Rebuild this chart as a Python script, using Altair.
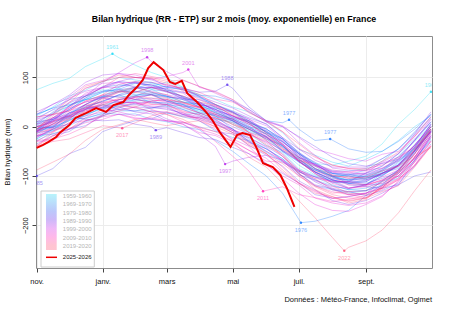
import altair as alt
import pandas as pd

FONT = "Liberation Sans, Arial, Helvetica, sans-serif"
TITLE = "Bilan hydrique (RR - ETP) sur 2 mois (moy. exponentielle) en France"
Y_TITLE = "Bilan hydrique (mm)"
CAPTION = "Données : Météo-France, Infoclimat, Ogimet"

MONTH_DAYS = [0, 61, 120, 181, 242, 304]
MONTH_LABELS = ["nov.", "janv.", "mars", "mai", "juil.", "sept."]
Y_TICKS = [-200, -100, 0, 100]

# days since 1 Nov at which each season is sampled
GRID_DAYS = [0, 15, 30, 45, 61, 76, 91, 106, 120, 135, 150, 165, 181, 196, 212, 227, 242,
             257, 273, 288, 304, 319, 334, 349, 364]

s1959 = [-25, -8, 18, 34, 60, 72, 80, 76, 62, 50, 42, 30, 12, -2, -15, -40, -62, -75, -78, -70, -60, -35, 5, 35, 71]
s1960 = [75, 88, 98, 122, 138, 140, 125, 110, 100, 80, 62, 38, 28, 8, -15, -40, -64, -92, -105, -108, -100, -90, -62, -30, 2]
s1961 = [2, 26, 42, 55, 70, 78, 66, 65, 55, 42, 32, 22, 5, -15, -38, -52, -85, -100, -110, -125, -118, -100, -78, -45, -8]
s1962 = [-8, 0, 12, 25, 36, 42, 45, 38, 42, 24, 28, 15, 8, -8, -22, -48, -65, -88, -100, -98, -95, -80, -55, -25, 10]
s1963 = [10, 28, 42, 62, 75, 70, 80, 70, 60, 45, 30, 22, 12, -10, -25, -50, -78, -98, -108, -115, -108, -88, -70, -46, -10]
s1964 = [-10, 0, 25, 45, 62, 80, 92, 82, 90, 80, 65, 55, 40, 30, 10, -12, -46, -58, -72, -80, -66, -50, -28, 0, 22]
s1965 = [22, 40, 62, 74, 92, 100, 95, 90, 80, 76, 60, 45, 30, 12, -12, -25, -55, -75, -90, -90, -85, -65, -46, -10, 25]
s1966 = [25, 38, 44, 55, 62, 60, 64, 48, 45, 38, 28, 16, 10, -5, -20, -40, -68, -84, -102, -108, -100, -88, -60, -28, 8]
s1967 = [8, 15, 28, 40, 38, 55, 62, 65, 52, 50, 45, 30, 16, 5, -10, -24, -62, -80, -102, -98, -88, -70, -45, -15, 18]
s1968 = [18, 34, 45, 55, 60, 62, 72, 65, 62, 50, 46, 28, 15, 0, -15, -38, -72, -88, -100, -108, -105, -92, -66, -40, -5]
s1969 = [-5, 2, 20, 42, 50, 65, 78, 88, 74, 70, 60, 45, 30, 8, -5, -25, -55, -78, -95, -96, -105, -95, -75, -36, -5]
s1970 = [-5, 0, 4, 25, 38, 45, 52, 54, 42, 35, 25, 12, -5, -30, -52, -72, -90, -108, -120, -128, -130, -112, -95, -65, -28]
s1971 = [-28, -14, -5, 10, 22, 32, 32, 32, 28, 20, 12, -8, -22, -28, -45, -65, -95, -120, -128, -135, -130, -118, -104, -68, -25]
s1972 = [-25, -5, 12, 35, 45, 50, 55, 50, 48, 46, 35, 25, 15, 0, -8, -38, -70, -92, -114, -112, -112, -94, -82, -50, -12]
s1973 = [-12, -8, 2, 18, 26, 45, 55, 66, 52, 45, 35, 22, -5, -25, -45, -65, -92, -102, -118, -128, -125, -110, -88, -52, -10]
s1974 = [-10, 14, 35, 55, 70, 76, 88, 85, 75, 60, 45, 36, 12, -5, -20, -50, -72, -92, -108, -115, -118, -95, -72, -38, 0]
s1975 = [0, 10, 18, 16, 28, 25, 26, 15, 10, 0, -6, -28, -50, -75, -100, -135, -190, -192, -182, -170, -140, -118, -88, -50, -5]
s1976 = [-5, 15, 34, 58, 72, 82, 90, 90, 80, 75, 64, 62, 52, 35, 12, 8, -5, -28, -30, -45, -52, -50, -30, -5, 25]
s1977 = [25, 38, 55, 62, 80, 85, 82, 78, 78, 60, 48, 35, 20, 12, -12, -30, -58, -86, -95, -102, -98, -85, -68, -44, 0]
s1978 = [0, -2, 14, 22, 40, 55, 62, 75, 72, 62, 50, 40, 18, 10, -10, -32, -54, -85, -100, -110, -104, -98, -80, -48, -10]
s1979 = [-10, -2, 28, 45, 60, 72, 72, 70, 62, 55, 40, 35, 22, 8, -4, -30, -55, -72, -94, -98, -102, -95, -78, -45, -5]
s1980 = [-5, 12, 22, 35, 44, 35, 32, 38, 45, 42, 35, 20, 12, -5, -25, -38, -68, -88, -102, -112, -115, -105, -92, -50, 0]
s1981 = [0, 18, 42, 58, 82, 92, 88, 84, 72, 56, 55, 45, 32, 18, 6, -22, -52, -78, -95, -100, -108, -98, -78, -42, 5]
s1982 = [5, 30, 48, 62, 72, 75, 64, 68, 62, 55, 45, 38, 30, 12, -5, -25, -52, -74, -100, -115, -118, -116, -92, -62, -18]
s1983 = [-18, -15, -5, 2, 22, 38, 48, 50, 48, 35, 22, 10, -5, -30, -50, -70, -98, -108, -125, -132, -130, -120, -100, -68, -22]
s1984 = [-22, -5, 16, 40, 52, 64, 55, 58, 52, 45, 28, 25, 12, -5, -22, -42, -66, -92, -108, -118, -122, -125, -118, -100, -92]
s1985 = [-100, -85, -55, -42, -10, 2, 12, 16, 28, 22, 18, 8, -12, -22, -40, -60, -90, -112, -128, -132, -140, -130, -115, -80, -35]
s1986 = [-35, -18, -10, 12, 24, 48, 60, 65, 60, 58, 40, 28, 15, -2, -20, -48, -70, -92, -108, -115, -112, -94, -85, -50, -8]
s1987 = [-8, 5, 28, 38, 52, 65, 70, 80, 82, 78, 70, 72, 78, 40, 12, 0, -20, -40, -62, -75, -80, -75, -66, -28, 10]
s1988 = [10, 15, 22, 15, 12, 14, 5, 0, -2, -12, -22, -26, -42, -55, -75, -95, -114, -138, -145, -142, -136, -110, -88, -55, -15]
s1989 = [-15, 6, 25, 45, 62, 75, 80, 80, 72, 58, 50, 32, 18, 2, -28, -50, -70, -95, -112, -126, -118, -100, -78, -42, 5]
s1990 = [5, 12, 20, 36, 38, 40, 30, 26, 12, 8, 0, -10, -15, -38, -58, -80, -110, -128, -150, -158, -150, -135, -118, -70, -20]
s1991 = [-20, -5, 6, 22, 30, 35, 40, 38, 38, 25, 15, 5, -8, -32, -45, -68, -95, -118, -126, -138, -135, -124, -95, -55, -8]
s1992 = [-8, 18, 35, 50, 58, 50, 48, 40, 35, 28, 20, 18, 0, -15, -32, -55, -88, -102, -110, -112, -94, -80, -55, -15, 30]
s1993 = [30, 45, 64, 90, 105, 108, 100, 95, 85, 78, 62, 50, 38, 22, 5, -22, -45, -68, -82, -82, -82, -65, -45, -12, 25]
s1994 = [25, 46, 58, 72, 80, 92, 100, 98, 82, 75, 62, 45, 28, 16, -12, -35, -62, -85, -106, -108, -108, -95, -78, -48, -10]
s1995 = [-10, 2, 22, 36, 58, 70, 78, 80, 70, 62, 50, 32, 22, 5, -15, -35, -62, -76, -98, -105, -102, -90, -78, -38, 5]
s1996 = [5, 18, 24, 38, 42, 46, 38, 30, 16, 5, -15, -40, -70, -62, -58, -68, -88, -102, -112, -112, -110, -95, -80, -48, -10]
s1997 = [-10, 10, 42, 62, 90, 110, 130, 132, 112, 94, 82, 68, 52, 30, 10, 0, -32, -58, -84, -88, -90, -74, -62, -28, 15]
s1998 = [15, 24, 50, 65, 78, 90, 80, 72, 65, 58, 44, 42, 30, 15, 2, -25, -55, -78, -90, -95, -94, -72, -55, -20, 15]
s1999 = [15, 35, 54, 78, 88, 90, 90, 80, 78, 70, 58, 42, 22, 12, -8, -28, -62, -78, -92, -98, -95, -85, -68, -26, 10]
s2000 = [10, 26, 60, 85, 94, 108, 105, 96, 102, 110, 80, 72, 55, 35, 12, 2, -22, -46, -55, -65, -70, -56, -50, -18, 20]
s2001 = [20, 25, 32, 44, 35, 30, 22, 32, 30, 25, 18, 14, -5, -22, -42, -70, -90, -110, -122, -125, -118, -102, -88, -48, -10]
s2002 = [-10, 15, 40, 68, 80, 80, 90, 85, 75, 68, 48, 35, 22, 8, -18, -30, -58, -80, -92, -92, -98, -88, -70, -38, 0]
s2003 = [0, 12, 38, 50, 60, 52, 48, 42, 40, 25, 12, -5, -25, -40, -75, -105, -135, -158, -170, -172, -158, -142, -110, -68, -18]
s2004 = [-18, -10, 8, 12, 20, 25, 16, 18, 12, 5, -12, -18, -35, -55, -78, -100, -118, -145, -155, -160, -155, -140, -112, -78, -30]
s2005 = [-30, -28, -5, 8, 15, 26, 18, 15, 12, 10, -5, -15, -30, -48, -64, -92, -115, -132, -146, -142, -135, -120, -100, -62, -18]
s2006 = [-18, 0, 20, 30, 48, 55, 60, 64, 52, 40, 28, 15, -8, -15, -30, -48, -68, -76, -88, -92, -88, -84, -65, -38, 0]
s2007 = [0, 8, 28, 32, 40, 45, 44, 52, 55, 48, 40, 22, 15, -2, -20, -36, -70, -92, -108, -124, -120, -108, -95, -65, -22]
s2008 = [-22, -2, 18, 35, 48, 50, 60, 55, 50, 42, 40, 25, 12, -12, -22, -42, -70, -95, -115, -125, -122, -115, -100, -62, -12]
s2009 = [-12, 10, 32, 52, 64, 60, 55, 50, 45, 30, 25, 10, -8, -28, -50, -68, -100, -120, -132, -138, -135, -125, -106, -80, -38]
s2010 = [-38, -18, -5, 18, 35, 48, 50, 35, 25, 10, -2, -30, -60, -90, -120, -122, -138, -144, -152, -148, -140, -128, -108, -72, -28]
s2011 = [-28, -25, -15, 0, 25, 40, 50, 45, 44, 28, 15, 0, -28, -48, -70, -72, -92, -105, -112, -112, -118, -110, -100, -72, -30]
s2012 = [-30, -10, 14, 45, 65, 86, 92, 90, 85, 78, 70, 56, 50, 32, 10, -10, -44, -62, -78, -85, -85, -78, -62, -42, -5]
s2013 = [-5, 18, 38, 62, 80, 100, 108, 102, 96, 72, 55, 40, 25, 8, -22, -38, -65, -90, -102, -118, -118, -108, -90, -55, -8]
s2014 = [-8, 5, 22, 44, 50, 55, 58, 46, 45, 32, 24, 5, -12, -32, -55, -82, -114, -130, -145, -150, -145, -122, -105, -62, -12]
s2015 = [-12, -5, -4, 12, 22, 32, 40, 52, 55, 50, 40, 28, 16, -12, -35, -60, -88, -106, -128, -138, -144, -125, -108, -78, -40]
s2016 = [-40, -30, -25, -12, 2, 0, 8, 22, 30, 20, 18, 5, -12, -38, -55, -75, -100, -122, -138, -145, -145, -132, -120, -82, -40]
s2017 = [-40, -20, 4, 35, 55, 70, 70, 65, 58, 48, 38, 18, 8, -12, -38, -56, -95, -120, -135, -132, -130, -112, -92, -65, -40]
s2018 = [-40, -12, 8, 32, 44, 58, 62, 58, 56, 40, 28, 18, 5, -12, -28, -60, -95, -128, -142, -155, -148, -120, -90, -48, -5]
s2019 = [-5, 22, 48, 78, 92, 100, 100, 98, 88, 75, 66, 45, 28, 10, -12, -35, -70, -95, -120, -135, -138, -124, -90, -48, 0]
s2020 = [0, 10, 22, 40, 58, 72, 80, 70, 65, 50, 38, 25, 4, -5, -25, -45, -68, -80, -98, -105, -102, -90, -80, -45, -8]
s2021 = [-8, 5, 16, 38, 45, 42, 40, 30, 25, 15, -2, -10, -30, -62, -82, -115, -150, -185, -225, -245, -232, -210, -175, -130, -88]
s2022 = [-88, -72, -56, -28, -5, 4, 15, 8, 2, 8, 12, 0, -15, -35, -54, -88, -115, -135, -142, -152, -145, -125, -95, -55, -5]
s2023 = [-5, 26, 55, 82, 92, 105, 100, 100, 92, 95, 82, 70, 55, 28, 12, -10, -35, -60, -78, -85, -88, -70, -52, -20, 20]
s2024 = [20, 25, 32, 52, 65, 72, 70, 80, 72, 62, 50, 44, 22, 5, -15, -45, -62, -85, -100, -102, -105, -95, -80, -60, -43]

# current season 2025-2026
RED_DAYS = [0, 6, 11, 18, 22, 30, 36, 46, 55, 64, 71, 80, 85, 92, 98, 103, 108, 117, 123,
            128, 134, 139, 148, 157, 162, 169, 179, 185, 190, 197, 203, 209, 218, 225, 231, 238]
RED_VALUES = [-43, -37, -31, -21, -11, 3, 18, 28, 38, 30, 44, 50, 64, 79, 95, 119, 131, 115, 91,
              87, 93, 68, 50, 28, 14, -11, -41, -17, -13, -17, -43, -74, -82, -98, -125, -163]

# annotated records
ANN_SEASON = [1959, 1960, 1997, 2000, 1987, 1976, 1976, 1985, 2016, 1988, 1996, 2010, 1975, 2021]
ANN_DAY = [364, 70, 102, 140, 176, 233, 271, 0, 79, 110, 174, 209, 244, 284]
ANN_VALUE = [71, 148, 141, 116, 85, 14, -25, -100, -3, -7, -76, -131, -195, -252]
ANN_LABEL = ["1960", "1961", "1998", "2001", "1988", "1977", "1977",
             "1985", "2017", "1989", "1997", "2011", "1976", "2022"]
ANN_KIND = ["max", "max", "max", "max", "max", "max", "max",
            "min", "min", "min", "min", "min", "min", "min"]

LEGEND_LABELS = ["1959-1960", "1969-1970", "1979-1980", "1989-1990",
                 "1999-2000", "2009-2010", "2019-2020"]
CURRENT_LABEL = "2025-2026"

COLOR_YEARS = [1959, 1979, 1989, 1999, 2009, 2019]
COLOR_RANGE = ["#12daf2", "#1e46f0", "#5a14eb", "#c814e6", "#ff14b4", "#ff3c64"]
RED = "#ee0000"

# ---------- build tables ----------
rows = []
for season in range(1959, 2025):
    vals = globals()[f"s{season}"]
    assert len(vals) == len(GRID_DAYS), season
    pts = dict(zip(GRID_DAYS, vals))
    for s, d, v in zip(ANN_SEASON, ANN_DAY, ANN_VALUE):
        if s == season:
            for g in [g for g in pts if abs(g - d) <= 3]:
                del pts[g]
            pts[d] = v
    for d in sorted(pts):
        rows.append({"season": season, "day": d, "value": pts[d]})
lines_df = pd.DataFrame(rows)
red_df = pd.DataFrame({"day": RED_DAYS, "value": RED_VALUES})
ann_df = pd.DataFrame({"season": ANN_SEASON, "day": ANN_DAY, "value": ANN_VALUE,
                       "label": ANN_LABEL, "kind": ANN_KIND})
one = pd.DataFrame({"k": [0]})

label_expr = " : ".join(f"datum.value == {d} ? '{l}'" for d, l in zip(MONTH_DAYS, MONTH_LABELS)) + " : ''"

color_scale = alt.Scale(domain=COLOR_YEARS, range=COLOR_RANGE, clamp=True)
x_enc = alt.X("day:Q", scale=alt.Scale(domain=[-0.6, 365], nice=False, zero=False),
              axis=alt.Axis(values=MONTH_DAYS, labelExpr=label_expr, title=None, grid=True,
                            gridColor="#ececec", domain=False, tickColor="#444444", tickSize=4,
                            labelFontSize=7.5, labelFont=FONT, labelColor="#111111",
                            labelPadding=5, labelFlush=False, labelOverlap=False))
y_enc = alt.Y("value:Q", scale=alt.Scale(domain=[-287, 184.2], nice=False, zero=False),
              axis=alt.Axis(values=Y_TICKS, title=None, grid=True, gridColor="#ececec",
                            domain=False, tickColor="#444444", tickSize=4, labelAngle=270,
                            labelAlign="center", labelBaseline="alphabetic", labelPadding=5,
                            labelFontSize=7.5, labelFont=FONT, labelColor="#111111"))

seasons = alt.Chart(lines_df).mark_line(strokeWidth=0.7, opacity=0.42, clip=True).encode(
    x=x_enc, y=y_enc,
    color=alt.Color("season:Q", scale=color_scale, legend=None),
    detail="season:N",
)

ann_pts = alt.Chart(ann_df).mark_point(filled=True, size=6, opacity=0.75, clip=True).encode(
    x="day:Q", y="value:Q", color=alt.Color("season:Q", scale=color_scale, legend=None))
ann_max = alt.Chart(ann_df).transform_filter("datum.kind == 'max'").mark_text(
    fontSize=5.6, font=FONT, dy=-7, opacity=0.5, clip=True).encode(
    x="day:Q", y="value:Q", text="label:N",
    color=alt.Color("season:Q", scale=color_scale, legend=None))
ann_min = alt.Chart(ann_df).transform_filter("datum.kind == 'min'").mark_text(
    fontSize=5.6, font=FONT, dy=7, opacity=0.5, clip=True).encode(
    x="day:Q", y="value:Q", text="label:N",
    color=alt.Color("season:Q", scale=color_scale, legend=None))

red_line = alt.Chart(red_df).mark_line(color=RED, strokeWidth=2).encode(x="day:Q", y="value:Q")

# ---------- legend ----------
span = COLOR_YEARS[-1] + 5 - COLOR_YEARS[0]
gradient = alt.LinearGradient(
    gradient="linear", x1=0, x2=0, y1=0, y2=1,
    stops=[alt.GradientStop(offset=(yr - COLOR_YEARS[0]) / span, color=c)
           for yr, c in zip(COLOR_YEARS, COLOR_RANGE)])
leg_box = alt.Chart(one).mark_rect(fill="white", stroke="#cccccc", strokeWidth=1).encode(
    x=alt.value(5), x2=alt.value(58.3), y=alt.value(155), y2=alt.value(231))
leg_grad = alt.Chart(one).mark_rect(color=gradient, opacity=0.3).encode(
    x=alt.value(10), x2=alt.value(20.7), y=alt.value(158), y2=alt.value(214))
leg_texts = [
    alt.Chart(one).mark_text(text=lab, fontSize=6, font=FONT, color="#b5b5b5",
                             align="center", baseline="middle").encode(
        x=alt.value(41.2), y=alt.value(159.7 + 8.4 * i))
    for i, lab in enumerate(LEGEND_LABELS)
]
leg_red = alt.Chart(one).mark_rule(color=RED, strokeWidth=1.5).encode(
    x=alt.value(10), x2=alt.value(21), y=alt.value(221.3))
leg_red_txt = alt.Chart(one).mark_text(text=CURRENT_LABEL, fontSize=6, font=FONT, color="#222222",
                                       align="center", baseline="middle").encode(
    x=alt.value(41.2), y=alt.value(221.3))

# ---------- texts ----------
title = alt.Chart(one).mark_text(text=TITLE, fontSize=8.8, fontWeight="bold", font=FONT,
                                 color="#000000", align="center", baseline="alphabetic").encode(
    x=alt.value(198), y=alt.value(-13.8))
ytitle = alt.Chart(one).mark_text(text=Y_TITLE, fontSize=7.5, font=FONT, color="#111111",
                                  angle=270, align="center", baseline="middle").encode(
    x=alt.value(-28), y=alt.value(116))
caption = alt.Chart(one).mark_text(text=CAPTION, fontSize=7.5, font=FONT, color="#111111",
                                   align="right", baseline="alphabetic").encode(
    x=alt.value(396), y=alt.value(265.5))

chart = alt.layer(
    seasons, ann_pts, ann_max, ann_min, red_line,
    leg_box, leg_grad, *leg_texts, leg_red, leg_red_txt,
    title, ytitle, caption,
).properties(
    width=396, height=232,
    padding={"left": 36, "top": 36, "right": 18, "bottom": 47},
    autosize=alt.AutoSizeParams(type="none"),
).configure_view(stroke="#8c8c8c", strokeWidth=1)

chart.save("out.html", embed_options={"renderer": "svg", "actions": False})
